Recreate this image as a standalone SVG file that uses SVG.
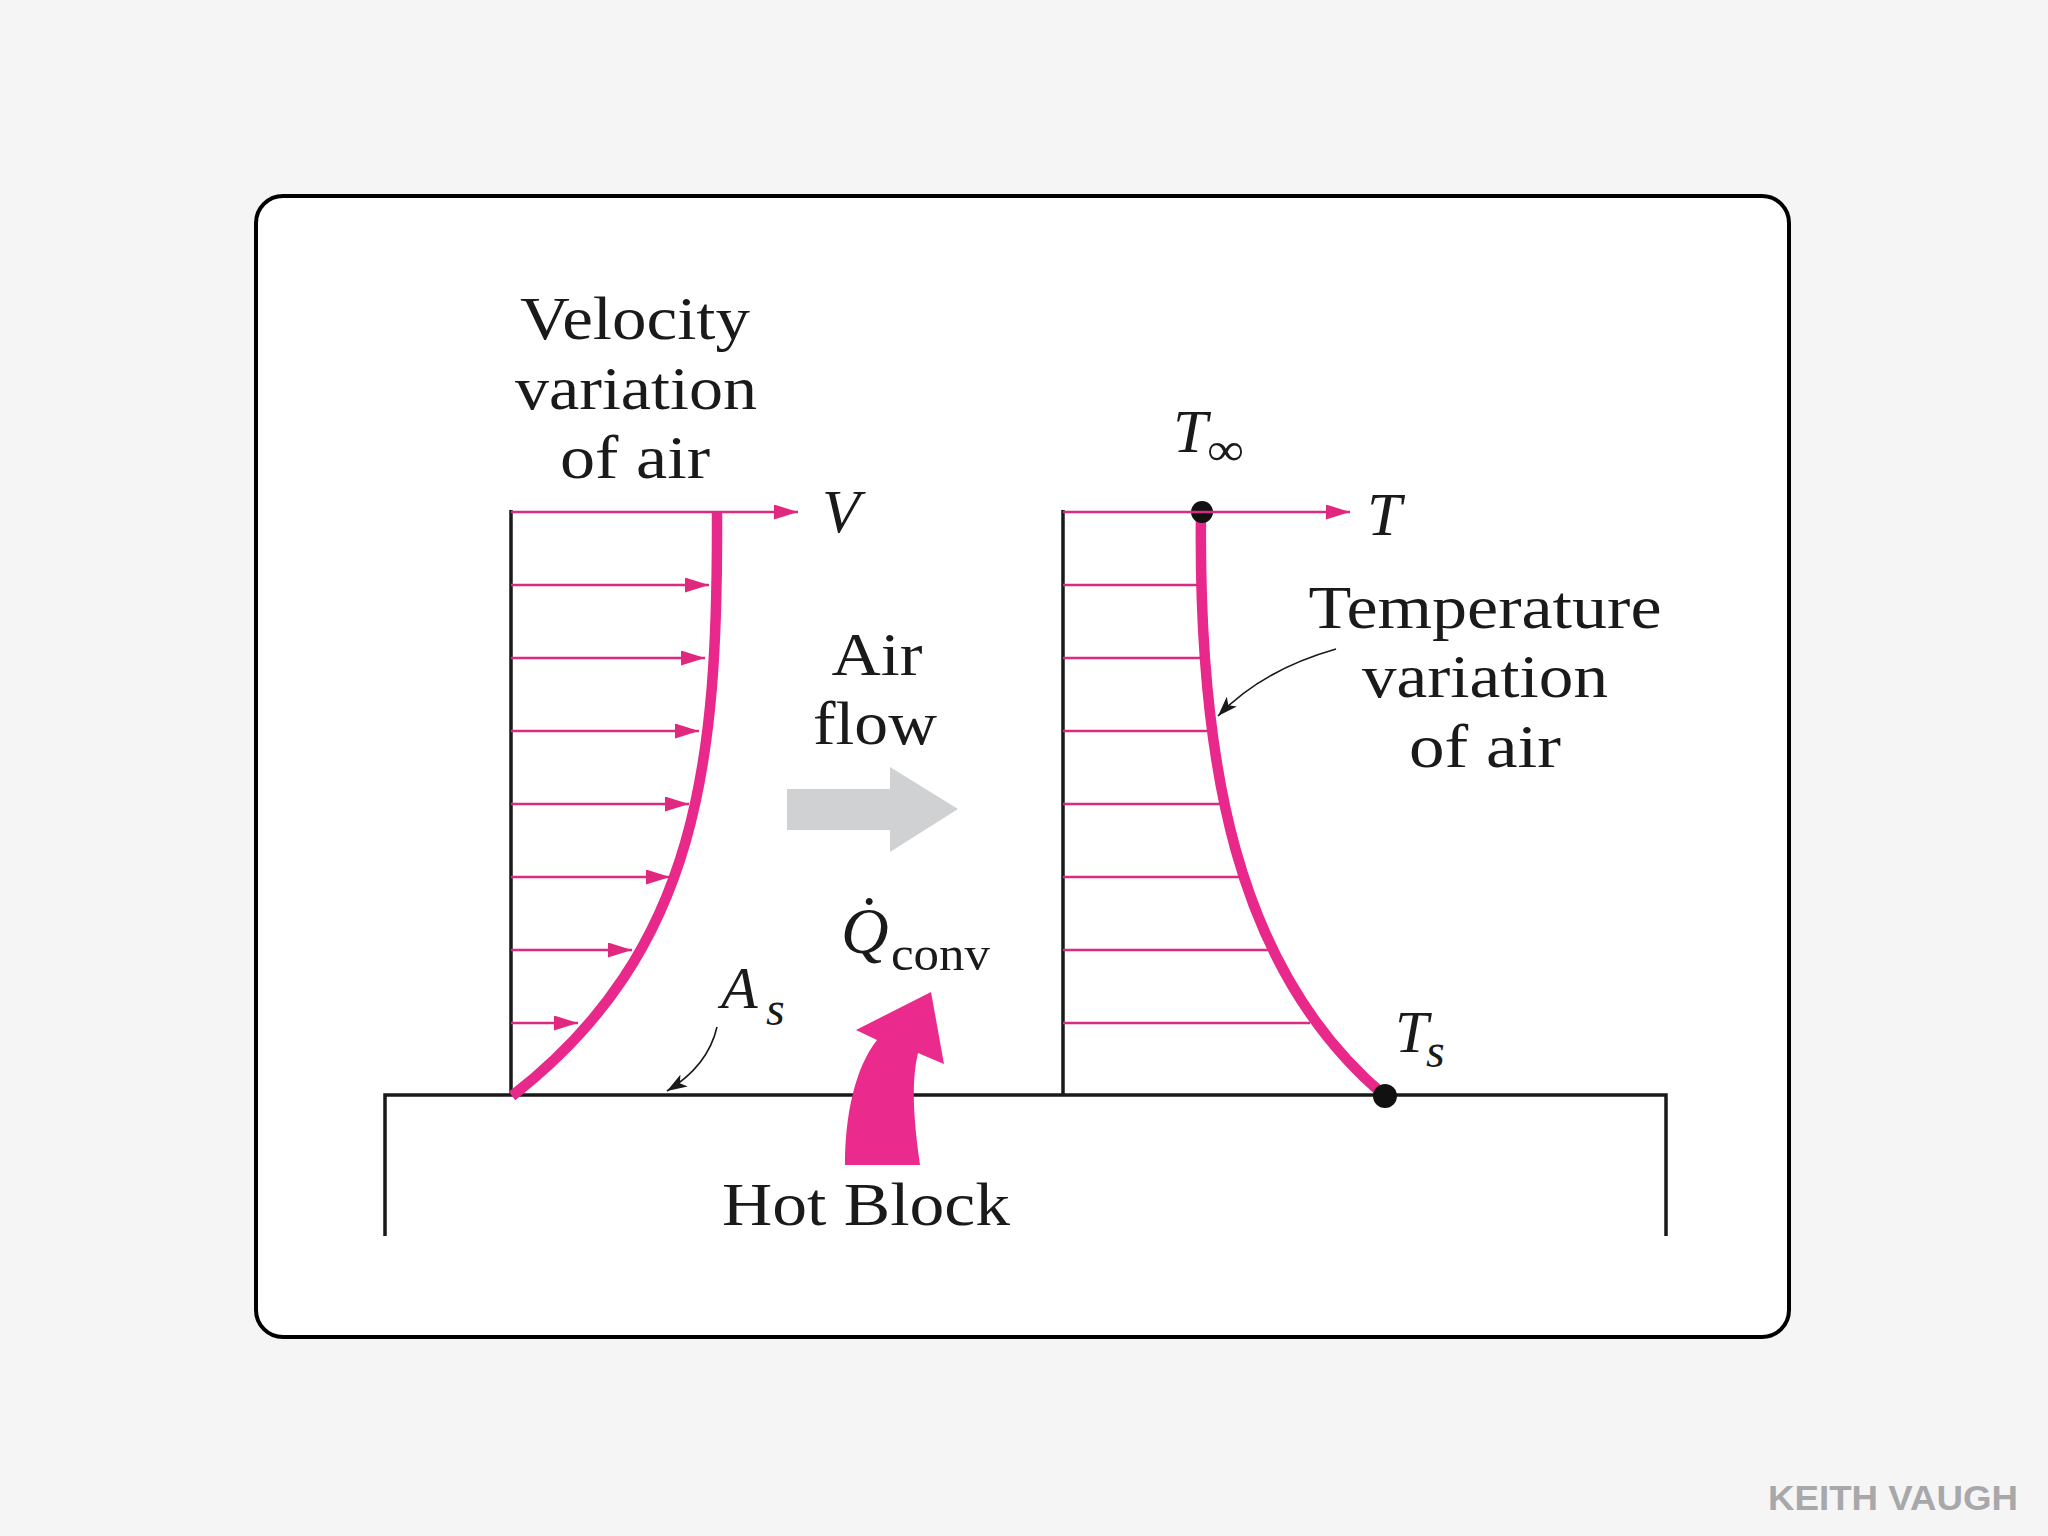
<svg xmlns="http://www.w3.org/2000/svg" width="2048" height="1536" viewBox="0 0 2048 1536">
<defs>
<style>
.lbl{font-family:"Liberation Serif","Times New Roman",serif;font-size:61px;fill:#1a1a1a;text-anchor:middle}
.it{font-family:"Liberation Serif","Times New Roman",serif;font-style:italic;fill:#1a1a1a}
.wall{stroke:#1a1a1a;stroke-width:3.5;fill:none}
.thin{stroke:#dc2a82;stroke-width:2.4;fill:none}
.prof{stroke:#e8288a;stroke-width:10.5;fill:none;stroke-linecap:butt}
.ptr{stroke:#1a1a1a;stroke-width:1.6;fill:none}
</style>
<marker id="pa" viewBox="0 0 24 15" refX="24" refY="7.5" markerWidth="24" markerHeight="15" markerUnits="userSpaceOnUse" orient="auto">
<path d="M0 0 L24 7.5 L0 15 Z" fill="#e0287f"/>
</marker>
<marker id="ba" viewBox="0 0 20 14" refX="20" refY="7" markerWidth="20" markerHeight="14" markerUnits="userSpaceOnUse" orient="auto">
<path d="M0 0 L20 7 L0 14 L5 7 Z" fill="#1a1a1a"/>
</marker>
</defs>
<rect x="0" y="0" width="2048" height="1536" fill="#f5f5f6"/>
<rect id="frame" x="256" y="196" width="1533" height="1141" rx="27" ry="27" fill="#ffffff" stroke="#000" stroke-width="4"/>

<g id="block">
<polyline class="wall" points="385,1236 385,1095 1666,1095 1666,1236"/>
<text class="lbl" x="866" y="1225" textLength="288" lengthAdjust="spacingAndGlyphs">Hot Block</text>
</g>

<g id="velocity-panel">
<line class="wall" x1="511" y1="510" x2="511" y2="1096"/>
<path class="prof" d="M717 512 C718 760 700 950 512 1096"/>
</g>

<g id="temperature-panel">
<line class="wall" x1="1063" y1="510" x2="1063" y2="1096"/>
<path class="prof" d="M1201 512 C1198 760 1235 970 1385 1096"/>
<circle cx="1202" cy="512" r="11" fill="#111"/>
<circle cx="1385" cy="1096" r="12" fill="#111"/>
</g>

<g id="connectors">
<line class="thin" x1="511" y1="512" x2="798" y2="512" marker-end="url(#pa)"/>
<line class="thin" x1="511" y1="585" x2="709" y2="585" marker-end="url(#pa)"/>
<line class="thin" x1="511" y1="658" x2="705" y2="658" marker-end="url(#pa)"/>
<line class="thin" x1="511" y1="731" x2="699" y2="731" marker-end="url(#pa)"/>
<line class="thin" x1="511" y1="804" x2="689" y2="804" marker-end="url(#pa)"/>
<line class="thin" x1="511" y1="877" x2="670" y2="877" marker-end="url(#pa)"/>
<line class="thin" x1="511" y1="950" x2="632" y2="950" marker-end="url(#pa)"/>
<line class="thin" x1="511" y1="1023" x2="578" y2="1023" marker-end="url(#pa)"/>

<line class="thin" x1="1063" y1="512" x2="1350" y2="512" marker-end="url(#pa)"/>
<line class="thin" x1="1063" y1="585" x2="1198" y2="585"/>
<line class="thin" x1="1063" y1="658" x2="1201" y2="658"/>
<line class="thin" x1="1063" y1="731" x2="1207" y2="731"/>
<line class="thin" x1="1063" y1="804" x2="1220" y2="804"/>
<line class="thin" x1="1063" y1="877" x2="1240" y2="877"/>
<line class="thin" x1="1063" y1="950" x2="1268" y2="950"/>
<line class="thin" x1="1063" y1="1023" x2="1310" y2="1023"/>

<path class="ptr" d="M717 1027 Q708 1066 667 1091" marker-end="url(#ba)"/>
<path class="ptr" d="M1336 649 Q1262 670 1218 716" marker-end="url(#ba)"/>
</g>

<g id="airflow">
<text class="lbl" x="877" y="675" textLength="91" lengthAdjust="spacingAndGlyphs">Air</text>
<text class="lbl" x="875" y="744" textLength="124" lengthAdjust="spacingAndGlyphs">flow</text>
<polygon points="787,789 890,789 890,767 958,809 890,852 890,830 787,830" fill="#d0d1d3"/>
</g>

<g id="heat">
<path d="M845 1165 C845 1115 855 1068 877 1040 L856 1030 L931 992 L944 1064 L918 1053 C910 1085 915 1130 920 1165 Z" fill="#ea2a8c"/>
<text class="it" x="841" y="953" font-size="66">Q&#x307;</text>
<text x="891" y="970" font-family="'Liberation Serif','Times New Roman',serif" font-size="48" fill="#1a1a1a" textLength="99" lengthAdjust="spacingAndGlyphs">conv</text>
</g>

<g id="labels">
<text class="lbl" x="635" y="339" textLength="230" lengthAdjust="spacingAndGlyphs">Velocity</text>
<text class="lbl" x="636" y="409" textLength="242" lengthAdjust="spacingAndGlyphs">variation</text>
<text class="lbl" x="635" y="478" textLength="150" lengthAdjust="spacingAndGlyphs">of air</text>
<text class="it" x="822" y="532" font-size="62">V</text>

<text class="it" x="1173" y="452" font-size="62">T</text>
<text x="1207" y="465" font-family="'Liberation Serif','Times New Roman',serif" font-size="46" fill="#1a1a1a" textLength="37" lengthAdjust="spacingAndGlyphs">∞</text>
<text class="it" x="1367" y="535" font-size="62">T</text>

<text class="lbl" x="1485" y="628" textLength="353" lengthAdjust="spacingAndGlyphs">Temperature</text>
<text class="lbl" x="1485" y="697" textLength="246" lengthAdjust="spacingAndGlyphs">variation</text>
<text class="lbl" x="1485" y="767" textLength="152" lengthAdjust="spacingAndGlyphs">of air</text>

<text class="it" x="721" y="1008" font-size="60">A</text>
<text class="it" x="766" y="1025" font-size="48">s</text>
<text class="it" x="1395" y="1052" font-size="60">T</text>
<text class="it" x="1426" y="1067" font-size="48">s</text>
</g>

<text id="watermark" x="1768" y="1510" font-family="'Liberation Sans',Arial,sans-serif" font-size="35" font-weight="bold" fill="#a8a8ab" textLength="250" lengthAdjust="spacingAndGlyphs">KEITH VAUGH</text>
</svg>
